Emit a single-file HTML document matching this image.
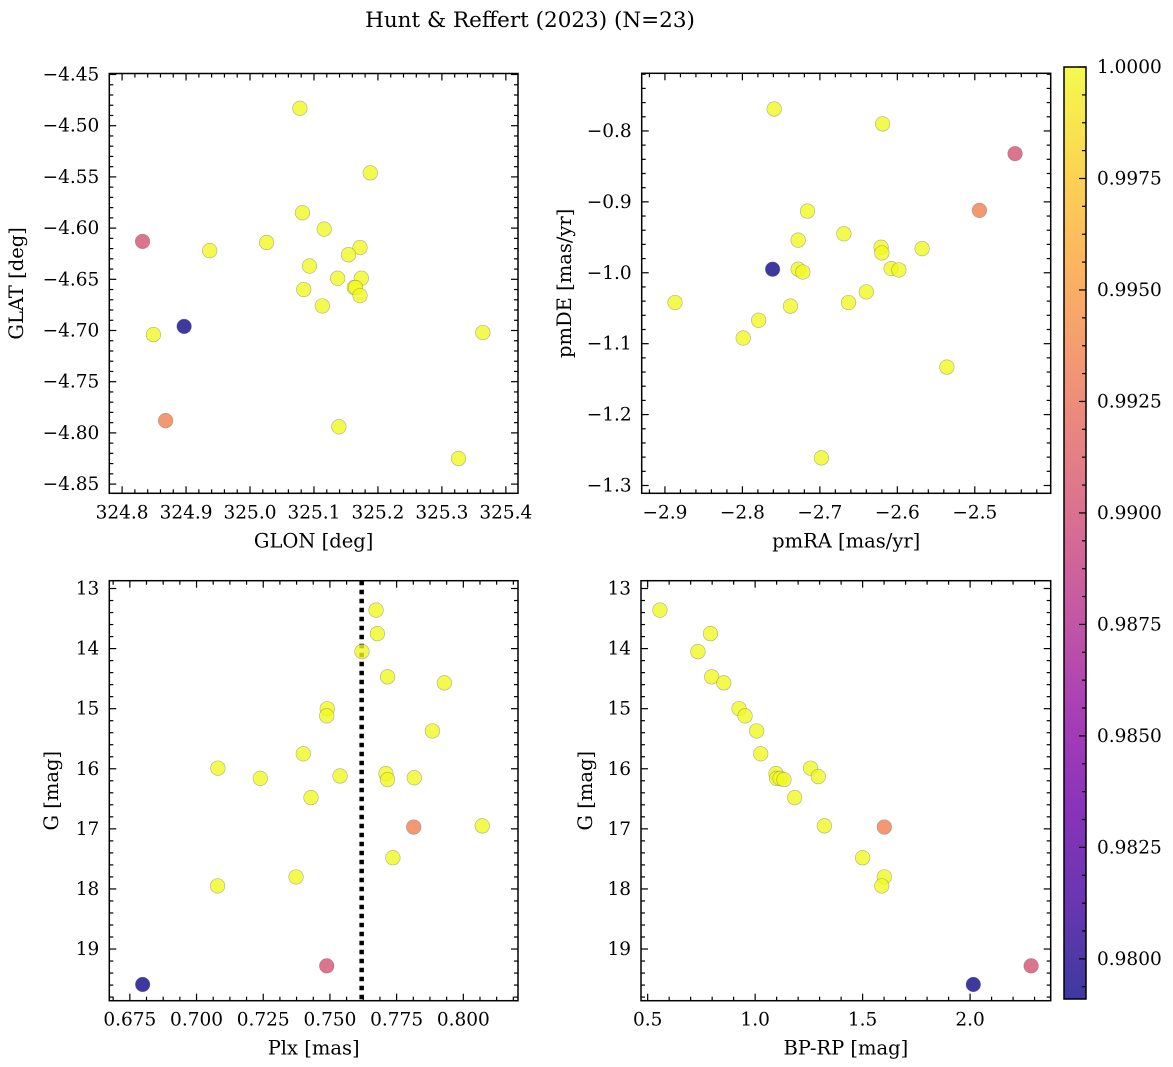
<!DOCTYPE html>
<html><head><meta charset="utf-8"><style>
html,body{margin:0;padding:0;background:#fff;}
svg{display:block;font-family:"DejaVu Serif","Liberation Serif",serif;}
</style></head><body>
<svg id="fig" width="1173" height="1067" viewBox="0 0 1173 1067" xmlns="http://www.w3.org/2000/svg">
<defs>
<linearGradient id="plasma" x1="0" y1="1" x2="0" y2="0">
<stop offset="0" stop-color="#0d0887"/><stop offset="0.1" stop-color="#41049d"/><stop offset="0.2" stop-color="#6a00a8"/><stop offset="0.3" stop-color="#8f0da4"/><stop offset="0.4" stop-color="#b12a90"/><stop offset="0.5" stop-color="#cc4778"/><stop offset="0.6" stop-color="#e16462"/><stop offset="0.7" stop-color="#f2844b"/><stop offset="0.8" stop-color="#fca636"/><stop offset="0.9" stop-color="#fcce25"/><stop offset="1" stop-color="#f0f921"/>
</linearGradient>
</defs>
<text x="530" y="27" text-anchor="middle" font-size="21.5">Hunt &amp; Reffert (2023) (N=23)</text>
</svg>
<script>
// ---- data ----
const glon = [325.078,325.188,325.082,325.116,324.937,325.026,324.832,325.172,325.154,325.093,325.137,325.174,325.084,325.163,325.165,325.172,325.113,324.897,324.849,325.364,324.868,325.139,325.326];
const glat = [-4.483,-4.546,-4.585,-4.601,-4.622,-4.614,-4.613,-4.619,-4.626,-4.637,-4.649,-4.649,-4.660,-4.658,-4.658,-4.666,-4.676,-4.696,-4.704,-4.702,-4.788,-4.794,-4.825];
const probA = [1,1,1,1,1,1,0.9903,1,1,1,1,1,1,1,1,1,1,0.9791,1,1,0.9935,1,1];

const pmra = [-2.759,-2.619,-2.448,-2.494,-2.716,-2.728,-2.669,-2.621,-2.620,-2.568,-2.761,-2.728,-2.722,-2.608,-2.598,-2.887,-2.738,-2.663,-2.640,-2.779,-2.799,-2.536,-2.698];
const pmde = [-0.769,-0.790,-0.832,-0.912,-0.913,-0.954,-0.945,-0.964,-0.972,-0.966,-0.995,-0.995,-0.999,-0.994,-0.996,-1.042,-1.047,-1.042,-1.027,-1.067,-1.092,-1.133,-1.261];
const probB = [1,1,0.9903,0.9935,1,1,1,1,1,1,0.9791,1,1,1,1,1,1,1,1,1,1,1,1];

const plx = [0.7673,0.7678,0.762,0.7716,0.7929,0.749,0.7488,0.7884,0.740,0.708,0.7239,0.7538,0.771,0.7716,0.7816,0.7429,0.7814,0.8071,0.7736,0.7373,0.7079,0.7488,0.6798];
const gmagC = [13.36,13.75,14.05,14.47,14.57,15.00,15.12,15.37,15.75,15.99,16.16,16.12,16.08,16.18,16.15,16.48,16.97,16.95,17.48,17.80,17.95,19.28,19.59];
const probC = [1,1,1,1,1,1,1,1,1,1,1,1,1,1,1,1,0.9935,1,1,1,1,0.9903,0.9791];
const plxLine = 0.7619;

const bprp = [0.557,0.792,0.734,0.798,0.854,0.925,0.953,1.007,1.026,1.258,1.097,1.100,1.116,1.134,1.294,1.184,1.601,1.322,1.500,1.601,1.589,2.284,2.015];
const gmagD = [13.36,13.75,14.05,14.47,14.57,15.00,15.12,15.37,15.75,15.99,16.08,16.16,16.16,16.18,16.13,16.48,16.97,16.95,17.48,17.80,17.95,19.28,19.59];
const probD = [1,1,1,1,1,1,1,1,1,1,1,1,1,1,1,1,0.9935,1,1,1,1,0.9903,0.9791];

const ticksA_x = [324.8,324.9,325.0,325.1,325.2,325.3,325.4];
const ticksA_y = [-4.45,-4.50,-4.55,-4.60,-4.65,-4.70,-4.75,-4.80,-4.85];
const ticksB_x = [-2.9,-2.8,-2.7,-2.6,-2.5];
const ticksB_y = [-0.8,-0.9,-1.0,-1.1,-1.2,-1.3];
const ticksC_x = [0.675,0.700,0.725,0.750,0.775,0.800];
const ticksG = [13,14,15,16,17,18,19];
const ticksD_x = [0.5,1.0,1.5,2.0];
const ticksCbar = [0.98,0.9825,0.985,0.9875,0.99,0.9925,0.995,0.9975,1.0];

const VMIN = 0.9791, VMAX = 1.0;
const NS = "http://www.w3.org/2000/svg";
const svg = document.getElementById('fig');
const stops = ["#0d0887","#41049d","#6a00a8","#8f0da4","#b12a90","#cc4778","#e16462","#f2844b","#fca636","#fcce25","#f0f921"];
function hx(c){return [parseInt(c.substr(1,2),16),parseInt(c.substr(3,2),16),parseInt(c.substr(5,2),16)];}
function cmap(v){
  let t=(v-VMIN)/(VMAX-VMIN); t=Math.max(0,Math.min(1,t));
  const f=t*10, i=Math.min(9,Math.floor(f)), r=f-i;
  const a=hx(stops[i]), b=hx(stops[i+1]);
  return 'rgb('+a.map((x,k)=>Math.round(x+(b[k]-x)*r)).join(',')+')';
}
function mk(tag, attrs, parent){
  const e=document.createElementNS(NS,tag);
  for(const k in attrs) e.setAttribute(k,attrs[k]);
  (parent||svg).appendChild(e); return e;
}
function fmt(v,d){ const s=Math.abs(v).toFixed(d); return (v<0?'\u2212':'')+s; }

function panel(o){
  const g=mk('g',{});
  
  
  const L=o.x0,R=o.x1,T=o.y0,B=o.y1;
  const sx=v=>L+(v-o.xmin)/(o.xmax-o.xmin)*(R-L);
  const sy=o.invert ? (v=>T+(v-o.ymin)/(o.ymax-o.ymin)*(B-T)) : (v=>B-(v-o.ymin)/(o.ymax-o.ymin)*(B-T));
  const step=(o.xt[1]-o.xt[0]);
  const xs=step/o.xdiv;
  for(let v=o.xt[0]-step; v<=o.xmax+1e-9; v+=xs){
    if(v<o.xmin-1e-9) continue;
    const X=sx(v); const major=o.xt.some(t=>Math.abs(t-v)<xs/10);
    const l=major?7:4;
    mk('line',{x1:X,x2:X,y1:B,y2:B-l,stroke:'#000','stroke-width':1.2},g);
    mk('line',{x1:X,x2:X,y1:T,y2:T+l,stroke:'#000','stroke-width':1.2},g);
  }
  const ystep=Math.abs(o.yt[1]-o.yt[0]); const ys=ystep/o.ydiv;
  const ylo=Math.min(...o.yt)-ystep;
  for(let v=ylo; v<=Math.max(o.ymin,o.ymax)+1e-9; v+=ys){
    if(v<Math.min(o.ymin,o.ymax)-1e-9) continue;
    const Y=sy(v); const major=o.yt.some(t=>Math.abs(t-v)<ys/10);
    const l=major?7:4;
    mk('line',{x1:L,x2:L+l,y1:Y,y2:Y,stroke:'#000','stroke-width':1.2},g);
    mk('line',{x1:R,x2:R-l,y1:Y,y2:Y,stroke:'#000','stroke-width':1.2},g);
  }
  o.xt.forEach(v=>{
    const t=mk('text',{x:sx(v),y:B+25,'text-anchor':'middle','font-size':18.5},g);
    
    
    t.textContent=fmt(v,o.xd);
  });
  o.yt.forEach(v=>{
    const t=mk('text',{x:L-10,y:sy(v)+6,'text-anchor':'end','font-size':18.5},g);
    
    
    t.textContent=fmt(v,o.yd);
  });
  const xl=mk('text',{x:(L+R)/2,y:B+54,'text-anchor':'middle','font-size':19.5},g);
  
  
  xl.textContent=o.xlabel;
  const yl=mk('text',{x:0,y:0,'text-anchor':'middle','font-size':19.5,transform:'translate('+o.ylx+','+((T+B)/2)+') rotate(-90)'},g);
  
  
  yl.textContent=o.ylabel;
  if(o.vline!==undefined){
    const ln=mk('line',{x1:sx(o.vline),x2:sx(o.vline),y1:T,y2:B,stroke:'#000','stroke-width':4.5,'stroke-dasharray':'4.5,4.5'},g);
    
    
  }
  o.xs.forEach((v,i)=>{
    const c=mk('circle',{cx:sx(v),cy:sy(o.ys[i]),r:7.3,fill:cmap(o.c[i]),'fill-opacity':0.8,stroke:'#666','stroke-opacity':0.5,'stroke-width':0.6},g);
    
    
  });
  const fr=mk('rect',{x:L,y:T,width:R-L,height:B-T,fill:'none',stroke:'#000','stroke-width':1.5},g);
  
  
}

panel({name:'glon-glat-panel',x0:109.3,x1:518,y0:73.5,y1:493.3,xmin:324.780,xmax:325.419,ymin:-4.859,ymax:-4.449,
  xt:ticksA_x,yt:ticksA_y,xdiv:5,ydiv:5,xd:1,yd:2,xs:glon,ys:glat,c:probA,xlabel:'GLON [deg]',ylabel:'GLAT [deg]',ylx:23});
panel({name:'proper-motion-panel',x0:641.7,x1:1050.7,y0:73.3,y1:493.3,xmin:-2.930,xmax:-2.402,ymin:-1.311,ymax:-0.7187,
  xt:ticksB_x,yt:ticksB_y,xdiv:5,ydiv:5,xd:1,yd:1,xs:pmra,ys:pmde,c:probB,xlabel:'pmRA [mas/yr]',ylabel:'pmDE [mas/yr]',ylx:571});
panel({name:'parallax-magnitude-panel',x0:109.3,x1:518,y0:580.7,y1:1000.7,xmin:0.6673,xmax:0.8205,ymin:12.87,ymax:19.86,invert:true,
  xt:ticksC_x,yt:ticksG,xdiv:4,ydiv:5,xd:3,yd:0,xs:plx,ys:gmagC,c:probC,xlabel:'Plx [mas]',ylabel:'G [mag]',ylx:58,vline:plxLine});
panel({name:'color-magnitude-panel',x0:641,x1:1050.7,y0:580.7,y1:1000.7,xmin:0.469,xmax:2.375,ymin:12.87,ymax:19.86,invert:true,
  xt:ticksD_x,yt:ticksG,xdiv:5,ydiv:5,xd:1,yd:0,xs:bprp,ys:gmagD,c:probD,xlabel:'BP-RP [mag]',ylabel:'G [mag]',ylx:592});

// colorbar
(function(){
  const g=mk('g',{});
  
  
  const L=1064,R=1086,T=67,B=999;
  const sy=v=>B-(v-VMIN)/(VMAX-VMIN)*(B-T);
  mk('rect',{x:L,y:T,width:R-L,height:B-T,fill:'url(#plasma)','fill-opacity':0.8},g);
  const ms=0.0025/4;
  for(let v=0.9775; v<=VMAX+1e-9; v+=ms){
    if(v<VMIN) continue;
    const major=ticksCbar.some(t=>Math.abs(t-v)<ms/10);
    const Y=sy(v);
    mk('line',{x1:R,x2:R-(major?7:4),y1:Y,y2:Y,stroke:'#000','stroke-width':1.2},g);
  }
  ticksCbar.forEach(v=>{
    const t=mk('text',{x:R+11,y:sy(v)+6,'font-size':18.5},g);
    
    
    t.textContent=v.toFixed(4);
  });
  mk('rect',{x:L,y:T,width:R-L,height:B-T,fill:'none',stroke:'#000','stroke-width':1.5},g);
})();
</script>
</body></html>
